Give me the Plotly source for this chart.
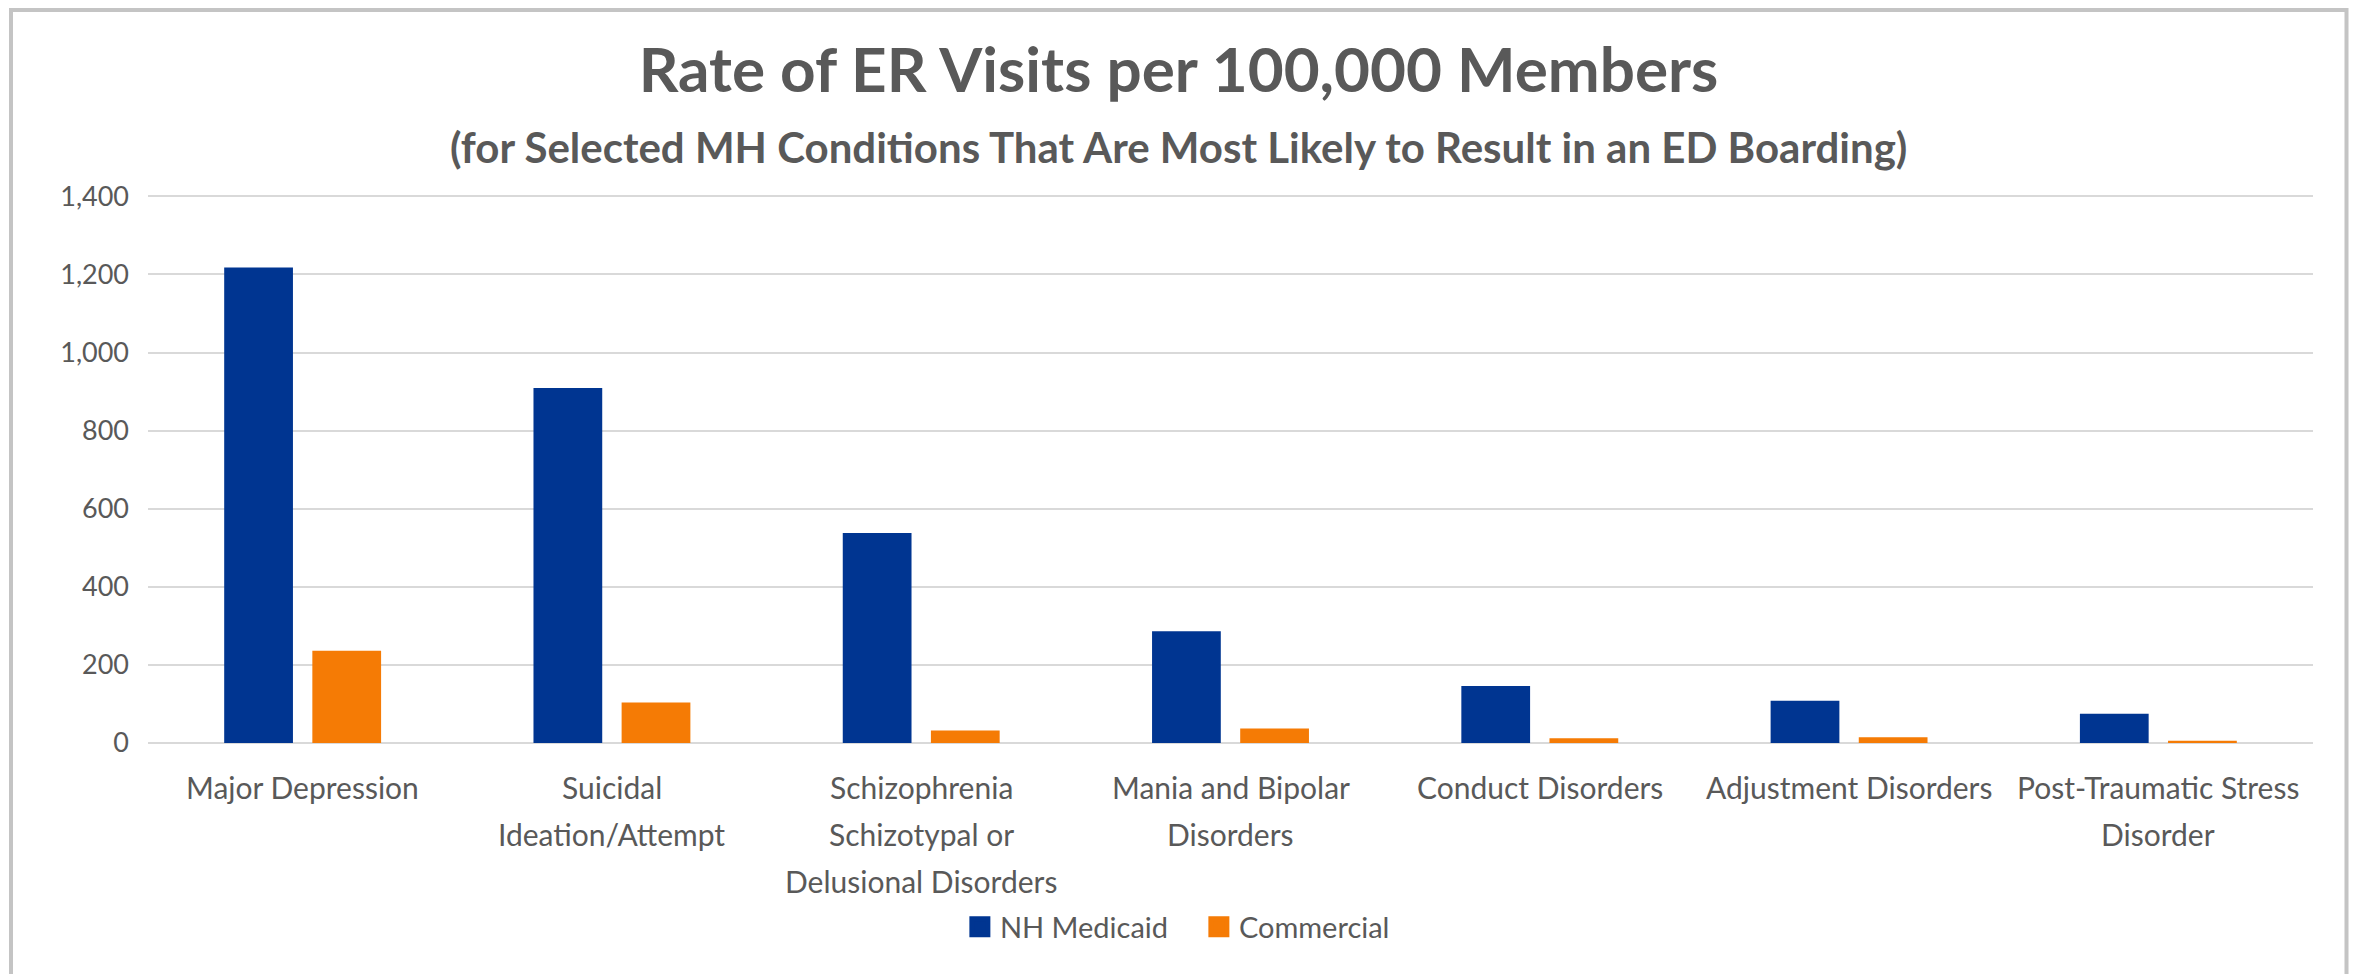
"""Rate of ER visits per 100,000 members, grouped bar chart."""

import plotly.graph_objects as go

# Chart data
categories = [
    "Major Depression",
    "Suicidal Ideation/Attempt",
    "Schizophrenia Schizotypal or Delusional Disorders",
    "Mania and Bipolar Disorders",
    "Conduct Disorders",
    "Adjustment Disorders",
    "Post-Traumatic Stress Disorder",
]
# how each category label is wrapped on the axis
category_lines = [
    ["Major Depression"],
    ["Suicidal", "Ideation/Attempt"],
    ["Schizophrenia", "Schizotypal or", "Delusional Disorders"],
    ["Mania and Bipolar", "Disorders"],
    ["Conduct Disorders"],
    ["Adjustment Disorders"],
    ["Post-Traumatic Stress", "Disorder"],
]
medicaid = [1218, 909, 538, 286, 146, 108, 75]
commercial = [236, 104, 32, 37, 12, 15, 6]
y_ticks = [0, 200, 400, 600, 800, 1000, 1200, 1400]

TEXT = "#595959"
BLUE = "#003591"
ORANGE = "#F57B05"
FONT = "Lato"

# plot area in figure pixels
W, H = 2357, 974
L, R, T, B = 140, 2305, 186, 735
PW, PH = R - L, B - T

fig = go.Figure()

fig.add_trace(
    go.Bar(
        x=categories,
        y=medicaid,
        name="NH Medicaid",
        marker=dict(color=BLUE, line=dict(width=0)),
        showlegend=False,
    )
)
fig.add_trace(
    go.Bar(
        x=categories,
        y=commercial,
        name="Commercial",
        marker=dict(color=ORANGE, line=dict(width=0)),
        showlegend=False,
    )
)

# Legend entries (bigger square swatches than plotly's bar legend icons)
for name, color in [("NH Medicaid", BLUE), ("Commercial", ORANGE)]:
    fig.add_trace(
        go.Scatter(
            x=[None],
            y=[None],
            mode="markers",
            name=name,
            marker=dict(symbol="square", size=16, color=color,
                        line=dict(width=5, color=color)),
        )
    )

# Category labels, one annotation per line so the line spacing matches
for cat, lines in zip(categories, category_lines):
    for i, line in enumerate(lines):
        fig.add_annotation(
            x=cat,
            xref="x",
            y=0,
            yref="paper",
            yanchor="top",
            yshift=-(24 + i * 47),
            text=line,
            showarrow=False,
            font=dict(family=FONT, size=30, color=TEXT),
        )

# Subtitle
fig.add_annotation(
    x=(1170.5 - L) / PW,
    xref="paper",
    y=(B - 139) / PH,
    yref="paper",
    yanchor="middle",
    text="<b>(for Selected MH Conditions That Are Most Likely to Result in an ED Boarding)</b>",
    showarrow=False,
    font=dict(family=FONT, size=42, color=TEXT),
)

# Outer chart border
fig.add_shape(
    type="rect",
    xref="paper",
    yref="paper",
    x0=(3 - L) / PW,
    x1=(2338.5 - L) / PW,
    y0=-0.6,
    y1=(B - 2) / PH,
    line=dict(color="#C4C4C4", width=4),
    layer="below",
)

fig.update_layout(
    width=W,
    height=H,
    margin=dict(l=L, r=W - R, t=T, b=H - B),
    paper_bgcolor="white",
    plot_bgcolor="white",
    font=dict(family=FONT, color=TEXT),
    title=dict(
        text="<b>Rate of ER Visits per 100,000 Members</b>",
        x=1170.5 / W,
        xref="container",
        xanchor="center",
        y=1 - 62 / H,
        yref="container",
        yanchor="middle",
        font=dict(family=FONT, size=62, color=TEXT),
    ),
    barmode="group",
    bargap=0.43,
    bargroupgap=0.22,
    xaxis=dict(
        showticklabels=False,
        showgrid=False,
        showline=False,
        ticks="",
    ),
    yaxis=dict(
        range=[0, 1406],
        tickvals=y_ticks,
        tickformat=",",
        tickfont=dict(family=FONT, size=27, color=TEXT),
        showgrid=True,
        gridcolor="#D9D9D9",
        gridwidth=2,
        zeroline=True,
        zerolinecolor="#D9D9D9",
        zerolinewidth=2,
        showline=False,
        ticks="",
        ticklabelstandoff=18,
    ),
    legend=dict(
        orientation="h",
        x=0.375,
        xanchor="left",
        y=(B - 919) / PH,
        yanchor="middle",
        entrywidth=194,
        font=dict(family=FONT, size=29, color=TEXT),
        itemclick=False,
    ),
)

fig.write_html("out.html")
